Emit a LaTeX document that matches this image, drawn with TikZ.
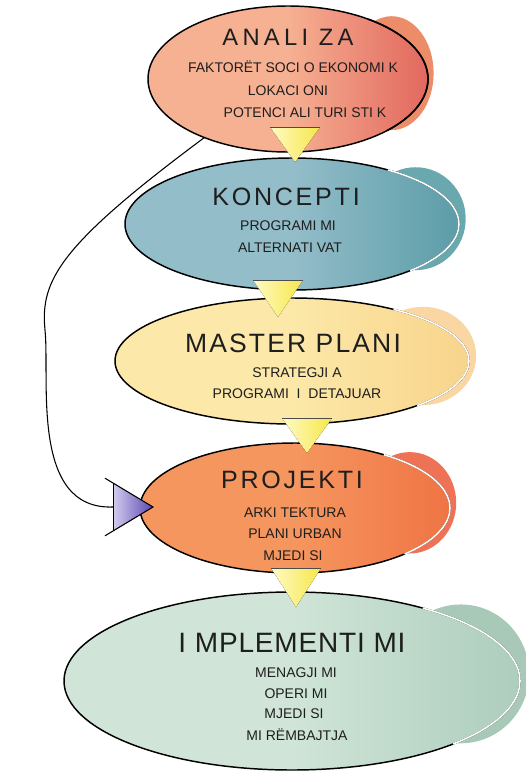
\documentclass[tikz,border=0pt]{standalone}
\usepackage{fontspec}
\setmainfont{Liberation Sans}
\usetikzlibrary{shapes.geometric,calc}
\definecolor{anabase}{HTML}{F6B092}
\definecolor{anadark}{HTML}{E2685E}
\definecolor{anablob}{HTML}{EC8C68}
\definecolor{konbase}{HTML}{93BDC9}
\definecolor{kondark}{HTML}{5C9DA8}
\definecolor{konblob}{HTML}{6AA8B0}
\definecolor{masbase}{HTML}{FCE8A8}
\definecolor{masdark}{HTML}{F8D48C}
\definecolor{masblob}{HTML}{F9D6A2}
\definecolor{probase}{HTML}{F6965F}
\definecolor{prodark}{HTML}{EF7444}
\definecolor{problob}{HTML}{EE7256}
\definecolor{impbase}{HTML}{D0E5D7}
\definecolor{impdark}{HTML}{ADCDBD}
\definecolor{impblob}{HTML}{A8C8B8}
\definecolor{tripale}{HTML}{FFFBC4}
\definecolor{trigold}{HTML}{F6E64A}
\definecolor{tiplight}{HTML}{D4CCEE}
\definecolor{tipdark}{HTML}{5A48B4}
\definecolor{ink}{HTML}{1E1E1E}
\tikzset{
  flow step/.style={ellipse,draw=black,line width=1.1pt,inner sep=0pt,outer sep=0pt},
  flow rim/.style={line width=1.2pt},
  flow title/.style={anchor=base,inner sep=0pt,text=ink},
  flow item/.style={anchor=base,inner sep=0pt,text=ink,font=\fontsize{10.5}{12}\selectfont},
  flow drop/.style={left color=tripale,right color=trigold},
  flow link/.style={black,line width=.8pt},
  flow tip/.style={left color=tiplight,right color=tipdark}
}

\begin{document}
\begin{tikzpicture}[x=.75pt,y=-.75pt]
  \fill[white] (0,0) rectangle (525,771);
  \useasboundingbox (0,0) rectangle (525,771);
  \foreach \n/\cx/\cy/\rx/\ry/\b/\d/\f/\r in {analiza/288/79/140/73/anabase/anadark/anablob/black,
      koncepti/292/224/167/66/konbase/kondark/konblob/white,
      masterplani/292/361/177/63/masbase/masdark/masblob/white,
      projekti/295/508/155/65/probase/prodark/problob/white,
      implementimi/292/681/228/89/impbase/impdark/impblob/white}{
    \fill[\f] (\cx+.74*\rx,\cy-.08*\ry) ellipse [x radius=\rx*.225pt,y radius=\ry*.585pt];
    \node[flow step,left color=\b,right color=\d,middle color=\b,
      minimum width=\rx*1.5pt,minimum height=\ry*1.5pt] (\n) at (\cx,\cy) {};
    \draw[flow rim,\r] (\cx+.707*\rx,\cy+.707*\ry) arc[start angle=-45,end angle=55,x radius=\rx*.75pt,y radius=\ry*.75pt];
  }
  \foreach \x/\y/\s/\l/\t [count=\i] in {288/45/17.8/18/ANALI ZA,286/205/18.8/11/KONCEPTI,
      293/352/19.9/8/MASTER PLANI,292/488/18.8/11/PROJEKTI,292/652/21/3/I MPLEMENTI MI}
    \node[flow title,font=\fontsize{\s}{\s}\selectfont\addfontfeatures{LetterSpace=\l}] (title\i) at (\x,\y) {\t};
  \foreach \x/\y/\t [count=\i] in {293/72/FAKTORËT SOCI O EKONOMI K,288/95/LOKACI ONI,305/117/POTENCI ALI TURI STI K,
      288/230/PROGRAMI MI,290/252/ALTERNATI VAT,
      297/377/STRATEGJI A,297/398/PROGRAMI~ I~ DETAJUAR,
      295/517/ARKI TEKTURA,295/538/PLANI URBAN,293/560/MJEDI SI,
      296/677/MENAGJI MI,296/698/OPERI MI,294/718/MJEDI SI,297/740/MI RËMBAJTJA}
    \node[flow item] (item\i) at (\x,\y) {\t};
  \foreach \x/\y/\h in {295/127/35,278/280/37,307/418/35,296/568/39}{
    \fill[flow drop] (\x-25,\y) -- (\x+25,\y) -- (\x,\y+\h) -- cycle;
    \draw[black!70,line width=.6pt] (\x-25,\y) -- (\x+25,\y);
  }
  \coordinate (linkend) at (113,507);
  \coordinate (tipA) at (113,483);
  \coordinate (tipB) at (113,531);
  \coordinate (tipC) at (153,507);
  \draw[flow link] (analiza.215) .. controls (60,245) and (40,280) .. (45,330)
    .. controls (50,380) and (30,510) .. (linkend);
  \fill[flow tip] (tipA) -- (tipC) -- (tipB) -- cycle;
  \draw[flow link] ($(tipC)!1.2!(tipA)$) -- (tipC) -- ($(tipC)!1.2!(tipB)$);
  \draw[flow link,line width=.5pt] (tipA) -- (tipB);
\end{tikzpicture}
\end{document}
